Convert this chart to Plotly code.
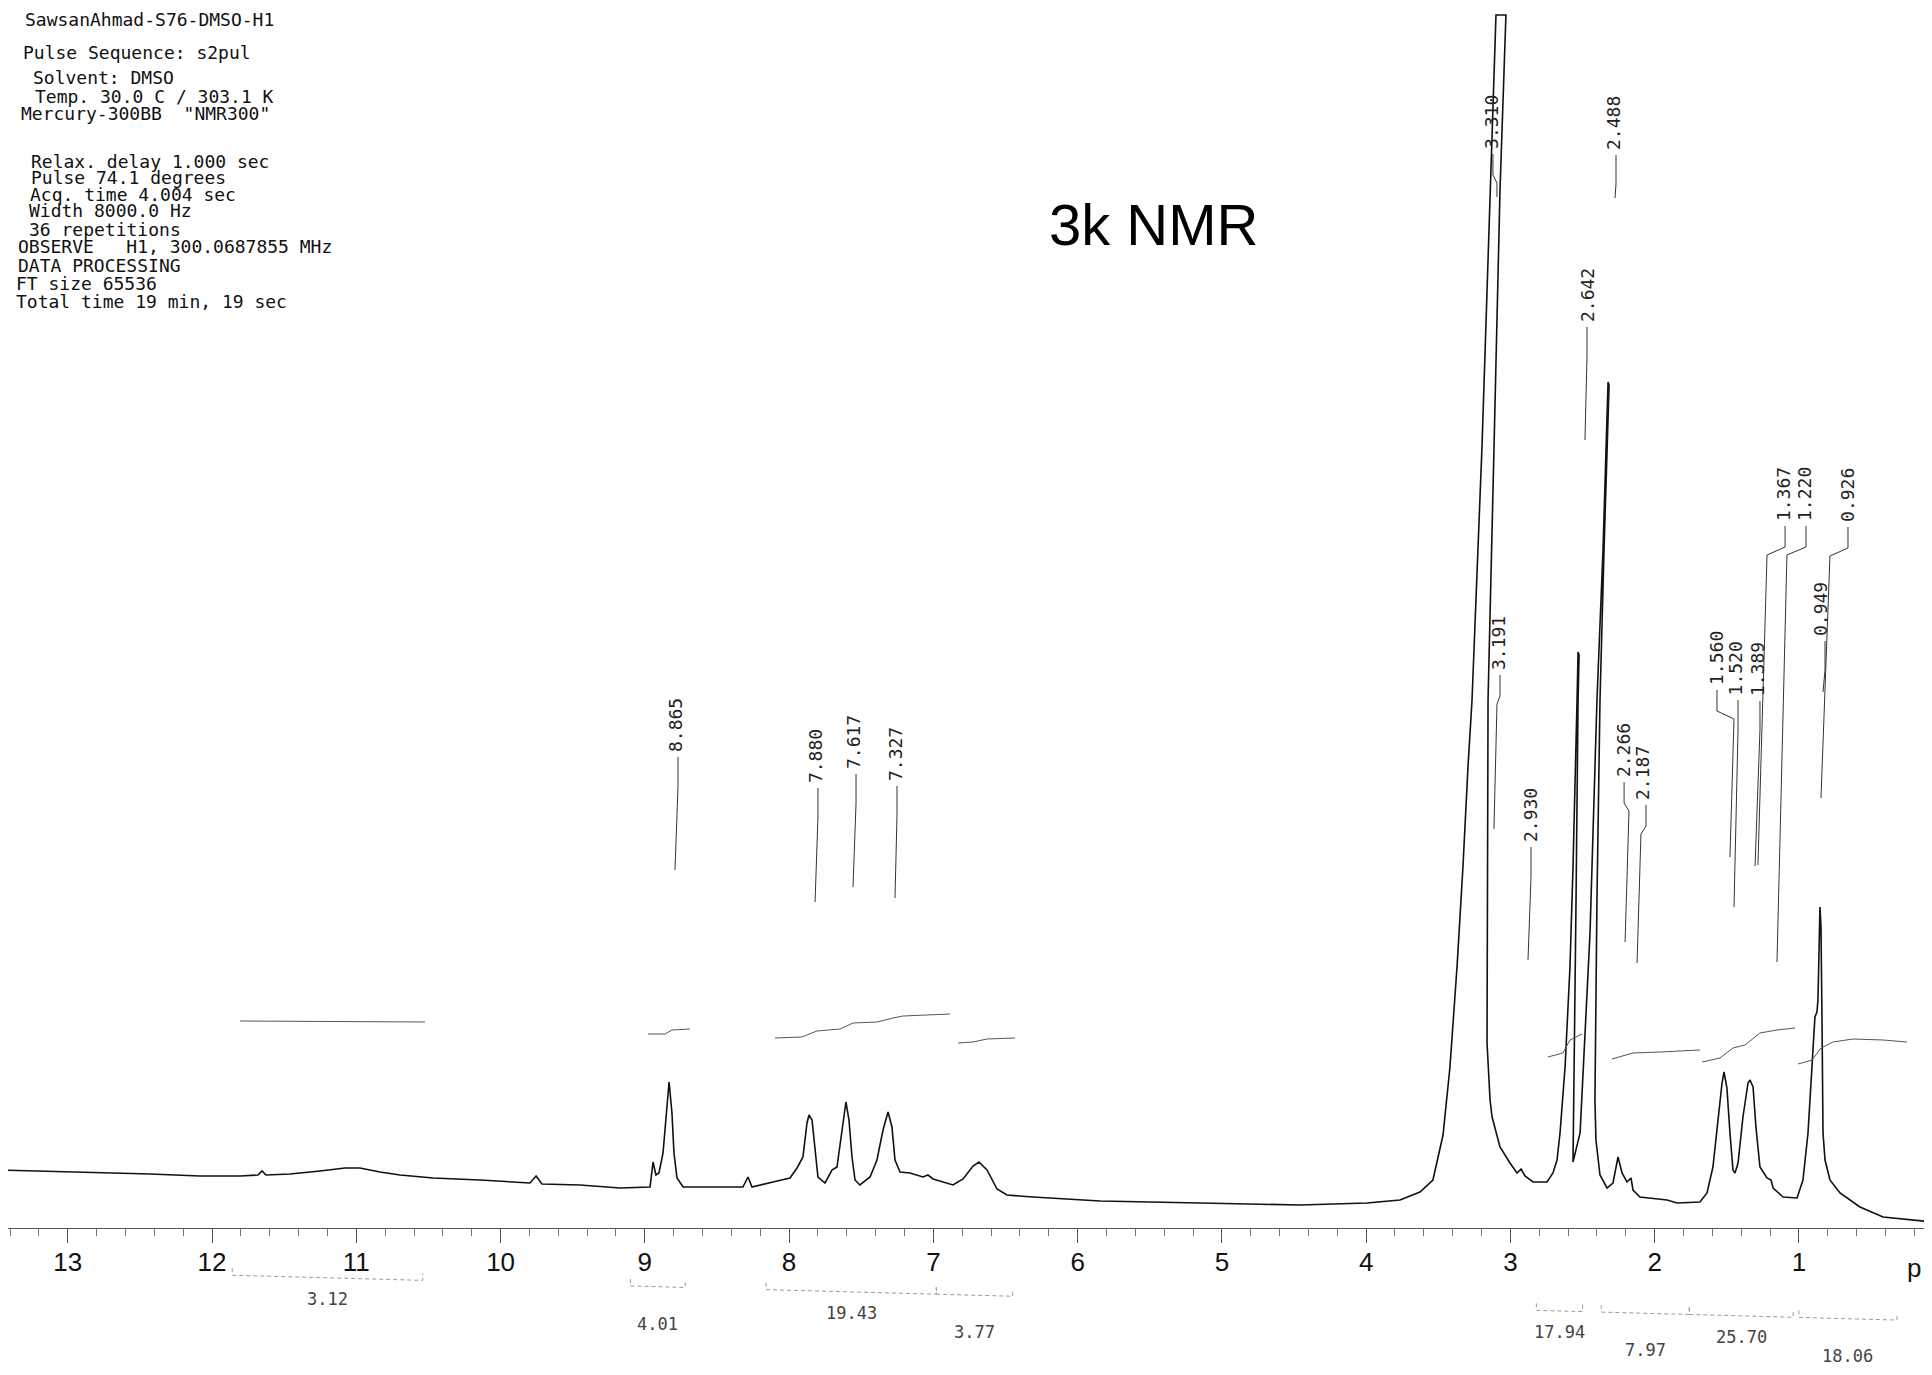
import plotly.graph_objects as go

# ---------------- data ----------------
# chemical shift (ppm, as read on the printed axis) and trace height (a.u.)
spectrum_ppm = [
    13.470, 13.193, 12.777, 12.430, 12.084, 11.806, 11.682, 11.654, 11.626, 11.460,
    11.252, 11.078, 10.975, 10.836, 10.697, 10.468, 10.143, 9.796, 9.754, 9.713,
    9.449, 9.172, 8.964, 8.943, 8.923, 8.902, 8.874, 8.853, 8.832, 8.812,
    8.798, 8.777, 8.735, 8.479, 8.320, 8.285, 8.257, 8.112, 7.994, 7.945,
    7.904, 7.876, 7.862, 7.841, 7.820, 7.800, 7.751, 7.703, 7.668, 7.633,
    7.606, 7.585, 7.564, 7.543, 7.509, 7.439, 7.391, 7.349, 7.314, 7.287,
    7.266, 7.231, 7.162, 7.072, 7.037, 7.002, 6.864, 6.794, 6.725, 6.684,
    6.628, 6.559, 6.490, 6.309, 5.845, 5.152, 4.459, 3.994, 3.765, 3.627,
    3.537, 3.467, 3.419, 3.370, 3.329, 3.294, 3.266, 3.197, 3.141, 3.100,
    3.031, 3.072, 3.114, 3.155, 3.162, 3.141, 3.127, 3.072, 3.003, 2.954,
    2.926, 2.899, 2.843, 2.746, 2.705, 2.677, 2.656, 2.621, 2.587, 2.566,
    2.538, 2.531, 2.524, 2.531, 2.545, 2.559, 2.566, 2.566, 2.517, 2.483,
    2.448, 2.400, 2.358, 2.323, 2.316, 2.351, 2.379, 2.400, 2.414, 2.407,
    2.379, 2.330, 2.289, 2.254, 2.226, 2.192, 2.164, 2.150, 2.102, 1.914,
    1.845, 1.686, 1.637, 1.596, 1.561, 1.533, 1.519, 1.499, 1.478, 1.457,
    1.443, 1.422, 1.388, 1.353, 1.339, 1.318, 1.298, 1.270, 1.221, 1.193,
    1.179, 1.110, 1.013, 0.972, 0.937, 0.909, 0.889, 0.875, 0.868, 0.854,
    0.847, 0.840, 0.833, 0.819, 0.785, 0.715, 0.577, 0.417, 0.299, 0.077,
]
spectrum_intensity = [
    26, 25, 24, 22, 20, 20, 21, 25, 21, 22,
    25, 28, 28, 24, 21, 18, 16, 13, 20, 12,
    11, 8, 9, 34, 21, 23, 43, 83, 114, 83,
    43, 18, 9, 9, 9, 19, 9, 14, 18, 28,
    39, 73, 81, 76, 43, 19, 13, 26, 29, 63,
    94, 76, 39, 16, 11, 19, 36, 66, 84, 69,
    36, 24, 23, 19, 21, 17, 11, 17, 30, 34,
    26, 7, 1, -1, -5, -7, -9, -7, -4, 4,
    16, 61, 129, 229, 329, 429, 496, 749, 1006, 1181,
    1181, 1006, 746, 496, 153, 96, 79, 49, 33, 23,
    27, 20, 14, 14, 23, 36, 63, 129, 229, 329,
    496, 544, 541, 496, 296, 96, 46, 34, 63, 163,
    263, 496, 646, 814, 811, 646, 496, 296, 96, 56,
    21, 8, 13, 39, 23, 14, 18, 6, -1, -4,
    -7, -6, 3, 29, 79, 113, 124, 108, 63, 26,
    23, 33, 79, 113, 116, 109, 69, 29, 18, 16,
    8, -1, -2, 16, 63, 129, 179, 184, 196, 289,
    269, 176, 63, 36, 16, 3, -11, -21, -23, -26,
]

# integral traces (ppm, height)
integral_curve_ppm = [
    [11.806, 10.524],
    [8.978, 8.860, 8.812, 8.687],
    [8.098, 7.911, 7.807, 7.647, 7.557, 7.391, 7.280, 7.210, 6.885],
    [6.829, 6.725, 6.628, 6.434],
    [2.740, 2.636, 2.587, 2.504],
    [2.296, 2.150, 1.963, 1.686],
    [1.672, 1.547, 1.457, 1.374, 1.270, 1.152, 1.027],
    [1.006, 0.909, 0.847, 0.764, 0.625, 0.417, 0.251],
]
integral_curve_height = [
    [175, 174],
    [162, 162, 166, 167],
    [158, 159, 165, 167, 173, 174, 178, 180, 182],
    [153, 154, 157, 158],
    [139, 143, 156, 162],
    [137, 143, 144, 146],
    [134, 138, 148, 151, 163, 166, 168],
    [132, 136, 148, 154, 157, 156, 154],
]

# integration regions (ppm from, ppm to) and printed integral values
integral_ranges = [(11.86, 10.54), (9.10, 8.72), (8.16, 6.98), (6.98, 6.45),
                   (2.82, 2.50), (2.37, 1.76), (1.76, 1.04), (1.00, 0.32)]
integral_values = ["3.12", "4.01", "19.43", "3.77", "17.94", "7.97", "25.70", "18.06"]

# printed peak picks
peak_labels = ["8.865", "7.880", "7.617", "7.327", "3.310", "3.191", "2.930", "2.642",
               "2.488", "2.266", "2.187", "1.560", "1.520", "1.389", "1.367", "1.220",
               "0.949", "0.926"]

tick_values = list(range(1, 14))

header_lines = [
    "SawsanAhmad-S76-DMSO-H1",
    "Pulse Sequence: s2pul",
    "Solvent: DMSO",
    "Temp. 30.0 C / 303.1 K",
    "Mercury-300BB  \"NMR300\"",
    "Relax. delay 1.000 sec",
    "Pulse 74.1 degrees",
    "Acq. time 4.004 sec",
    "Width 8000.0 Hz",
    "36 repetitions",
    "OBSERVE   H1, 300.0687855 MHz",
    "DATA PROCESSING",
    "FT size 65536",
    "Total time 19 min, 19 sec",
]
title_text = "3k NMR"

# ---------------- layout (positions, not data) ----------------
PAGE_W, PAGE_H = 1932, 1375
BODY_MARGIN = 8                      # default page margin around the figure
W, H = PAGE_W - 2 * BODY_MARGIN, PAGE_H - 2 * BODY_MARGIN
PX_PER_PPM = 144.26                  # printed scale
PX_AT_13 = 67.8                      # page x of the "13" tick
BASE_PX = 1196                       # page y of zero intensity


def ppm_at_page_x(px):
    return 13 - (px - PX_AT_13) / PX_PER_PPM


def px_to_paper(px, py):
    return (px - BODY_MARGIN) / W, 1 - (py - BODY_MARGIN) / H


x_range = [ppm_at_page_x(BODY_MARGIN), ppm_at_page_x(BODY_MARGIN + W)]
y_range = [BASE_PX - (BODY_MARGIN + H), BASE_PX - BODY_MARGIN]
axis_paper_y = px_to_paper(0, 1228)[1]

# label placement: text ppm, text height, leader x top, leader x after jog, leader x bottom, leader end height
peak_label_layout = [
    (8.791, 471, 8.770, 8.770, 8.791, 326),
    (7.820, 440, 7.800, 7.800, 7.820, 294),
    (7.557, 454, 7.536, 7.536, 7.557, 309),
    (7.266, 442, 7.252, 7.252, 7.266, 298),
    (3.135, 1074, 3.121, 3.093, 3.093, 999),
    (3.086, 553, 3.072, 3.093, 3.114, 367),
    (2.864, 381, 2.857, 2.857, 2.878, 236),
    (2.469, 901, 2.469, 2.469, 2.483, 756),
    (2.289, 1073, 2.268, 2.268, 2.275, 998),
    (2.219, 446, 2.212, 2.178, 2.205, 254),
    (2.088, 423, 2.060, 2.095, 2.122, 233),
    (1.575, 538, 1.568, 1.450, 1.478, 339),
    (1.440, 528, 1.422, 1.422, 1.450, 289),
    (1.290, 527, 1.270, 1.270, 1.304, 330),
    (1.110, 702, 1.096, 1.221, 1.284, 331),
    (0.965, 702, 0.951, 1.083, 1.152, 234),
    (0.854, 587, 0.819, 0.819, 0.833, 504),
    (0.667, 701, 0.660, 0.785, 0.847, 398),
]
header_pos_px = [(23, 19), (21, 53), (31, 77), (33, 97), (19, 114), (29, 161), (29, 177),
                 (28, 194), (27, 211), (27, 229), (16, 247), (16, 265), (14, 283), (14, 301)]


def scan_drift(ppm):
    # the scanned page is slightly tilted: the printed baseline drifts across the page
    return -26 + 3.883 * (ppm - 0.077)


fig = go.Figure()

# spectrum
fig.add_trace(go.Scatter(x=spectrum_ppm, y=spectrum_intensity, mode="lines",
                         line=dict(color="#111111", width=1.6), hoverinfo="skip",
                         showlegend=False))

# integral curves
ix, iy = [], []
for xs, ys in zip(integral_curve_ppm, integral_curve_height):
    ix += xs + [None]
    iy += ys + [None]
fig.add_trace(go.Scatter(x=ix, y=iy, mode="lines", line=dict(color="#555555", width=1),
                         hoverinfo="skip", showlegend=False))

# peak label leaders
lxs, lys = [], []
for (tp, ti, lx, tx, bx, ei) in peak_label_layout:
    top = ti - 32
    lxs += [lx, lx, tx, bx, None]
    lys += [top, top - 21, top - 29, ei, None]
fig.add_trace(go.Scatter(x=lxs, y=lys, mode="lines", line=dict(color="#333333", width=1),
                         hoverinfo="skip", showlegend=False))

# integral brackets under the axis
bxs, bys = [], []
for (a, b) in integral_ranges:
    ya = scan_drift(a) - 99
    yb = scan_drift(b) - 99
    bxs += [a, a, b, b, None]
    bys += [ya + 7, ya, yb, yb + 7, None]
fig.add_trace(go.Scatter(x=bxs, y=bys, mode="lines",
                         line=dict(color="#9a9a9a", width=1, dash="4px,3px"),
                         hoverinfo="skip", showlegend=False))

annotations = []
# peak labels
for txt, (tp, ti, lx, tx, bx, ei) in zip(peak_labels, peak_label_layout):
    annotations.append(dict(x=tp, y=ti, xref="x", yref="y", text=txt, textangle=-90,
                            showarrow=False, xanchor="center", yanchor="middle",
                            font=dict(family="DejaVu Sans Mono, monospace", size=18,
                                      color="#222222")))
# integral values (two alternating rows)
for k, (val, (a, b)) in enumerate(zip(integral_values, integral_ranges)):
    c = (a + b) / 2
    off = -120 if k % 2 == 0 else -136
    annotations.append(dict(x=c, y=scan_drift(c) + off, xref="x", yref="y", text=val,
                            showarrow=False, xanchor="center", yanchor="middle",
                            font=dict(family="DejaVu Sans Mono, monospace", size=17,
                                      color="#444444")))
# header text
for line, (px, py) in zip(header_lines, header_pos_px):
    xp, yp = px_to_paper(px, py)
    annotations.append(dict(x=xp, y=yp, xref="paper", yref="paper",
                            text=line.replace(" ", "\u00a0"), showarrow=False,
                            xanchor="left", yanchor="middle",
                            font=dict(family="DejaVu Sans Mono, monospace", size=18,
                                      color="#111111")))
# title
xp, yp = px_to_paper(1153, 224)
annotations.append(dict(x=xp, y=yp, xref="paper", yref="paper",
                        text=title_text, showarrow=False, xanchor="center",
                        yanchor="middle",
                        font=dict(family="Liberation Sans, Arial, sans-serif", size=58,
                                  color="#000000")))
# truncated axis unit
xp, yp = px_to_paper(1914, 1268)
annotations.append(dict(x=xp, y=yp, xref="paper", yref="paper", text="p",
                        showarrow=False, xanchor="center", yanchor="middle",
                        font=dict(family="Liberation Sans, Arial, sans-serif", size=26,
                                  color="#111111")))

fig.update_layout(
    width=W, height=H,
    margin=dict(l=0, r=0, t=0, b=0),
    paper_bgcolor="white", plot_bgcolor="white",
    showlegend=False,
    annotations=annotations,
    xaxis=dict(
        range=x_range, anchor="free", position=axis_paper_y,
        showline=True, linecolor="#555555", linewidth=1.2,
        ticks="outside", ticklen=14, tickwidth=1.2, tickcolor="#555555",
        tickmode="array", tickvals=tick_values,
        ticktext=[str(v) for v in tick_values],
        tickfont=dict(family="Liberation Sans, Arial, sans-serif", size=26, color="#111111"),
        ticklabelstandoff=-3,
        minor=dict(dtick=0.2, tick0=0, ticklen=7, tickwidth=1, tickcolor="#777777",
                   ticks="outside", showgrid=False),
        showgrid=False, zeroline=False,
    ),
    yaxis=dict(range=y_range, visible=False, showgrid=False, zeroline=False),
)

fig.write_html("out.html", config={"displayModeBar": False})
